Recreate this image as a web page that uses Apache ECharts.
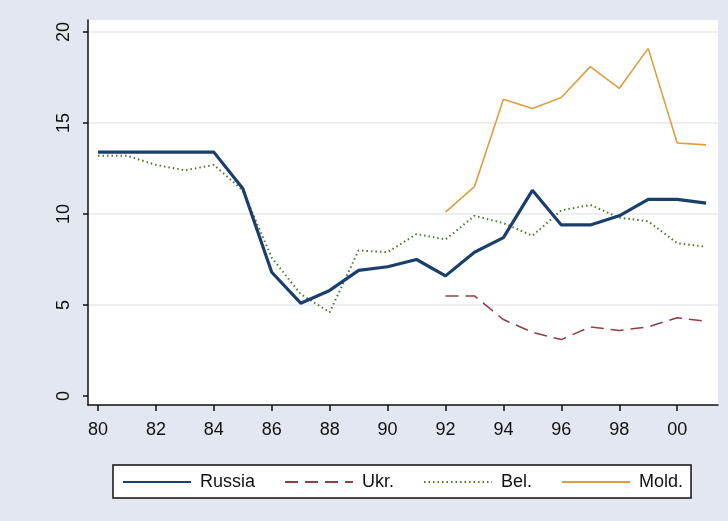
<!DOCTYPE html>
<html>
<head>
<meta charset="utf-8">
<script src="https://cdn.jsdelivr.net/npm/echarts@6/dist/echarts.min.js"></script>
<style>
  html, body { margin: 0; padding: 0; background: #e2e7f0; }
  #chart { width: 728px; height: 521px; }
</style>
</head>
<body>
<div id="chart"></div>
<script>
// Years covered by each series
const yearsAll = [1980,1981,1982,1983,1984,1985,1986,1987,1988,1989,1990,
                  1991,1992,1993,1994,1995,1996,1997,1998,1999,2000,2001];
const yearsLate = [1992,1993,1994,1995,1996,1997,1998,1999,2000,2001];

const russia = [13.4,13.4,13.4,13.4,13.4,11.4,6.8,5.1,5.8,6.9,7.1,
                7.5,6.6,7.9,8.7,11.3,9.4,9.4,9.9,10.8,10.8,10.6];
const belarus = [13.2,13.2,12.7,12.4,12.7,11.3,7.6,5.6,4.6,8.0,7.9,
                 8.9,8.6,9.9,9.5,8.8,10.2,10.5,9.8,9.6,8.4,8.2];
const ukraine = [5.5,5.5,4.2,3.5,3.1,3.8,3.6,3.8,4.3,4.1];
const moldova = [10.1,11.5,16.3,15.8,16.4,18.1,16.9,19.1,13.9,13.8];

const xTicks = [1980,1982,1984,1986,1988,1990,1992,1994,1996,1998,2000];
const yTicks = [0,5,10,15,20];

const pairs = (xs, ys) => xs.map((x, i) => [x, ys[i]]);

const chart = echarts.init(document.getElementById('chart'), null, { renderer: 'canvas' });

chart.setOption({
  backgroundColor: '#e2e7f0',
  animation: false,
  grid: {
    left: 88, right: 10, top: 20, bottom: 116,
    show: true, backgroundColor: '#ffffff', borderWidth: 0
  },
  xAxis: {
    type: 'value',
    min: 1979.655, max: 2001.41,
    axisLine: { show: true, onZero: false, lineStyle: { color: '#111', width: 1.5 } },
    axisTick: { show: true, customValues: xTicks, length: 6, lineStyle: { color: '#111', width: 1.5 } },
    axisLabel: {
      customValues: xTicks, margin: 16,
      color: '#111', fontFamily: 'Liberation Sans', fontSize: 18,
      formatter: v => String(Math.round(v) % 100).padStart(2, '0')
    },
    splitLine: { show: false }
  },
  yAxis: {
    type: 'value',
    min: -0.495, max: 20.66,
    axisLine: { show: true, onZero: false, lineStyle: { color: '#111', width: 1.5 } },
    axisTick: { show: true, customValues: yTicks, length: 5, lineStyle: { color: '#111', width: 1.5 } },
    axisLabel: {
      customValues: yTicks, rotate: 90, margin: 15,
      color: '#111', fontFamily: 'Liberation Sans', fontSize: 18
    },
    splitLine: { show: true, lineStyle: { color: ['rgba(0,0,0,0)', '#e6e8ef', '#e6e8ef', '#e6e8ef', '#e6e8ef'], width: 1.5 } }
  },
  legend: {
    left: 113, top: 465,
    orient: 'horizontal',
    backgroundColor: '#ffffff',
    borderColor: '#111', borderWidth: 1.5, borderRadius: 0,
    padding: [8, 8, 7, 9],
    itemWidth: 68, itemHeight: 14, itemGap: 29,
    itemStyle: { opacity: 0 },
    textStyle: { color: '#111', fontFamily: 'Liberation Sans', fontSize: 18, padding: [0, 0, 0, 4] },
    data: ['Russia', 'Ukr.', 'Bel.', 'Mold.']
  },
  series: [
    {
      name: 'Russia', type: 'line', symbol: 'none',
      data: pairs(yearsAll, russia),
      lineStyle: { color: '#1b3f6c', width: 3.2 },
      itemStyle: { color: '#1b3f6c' }, z: 4
    },
    {
      name: 'Ukr.', type: 'line', symbol: 'none',
      data: pairs(yearsLate, ukraine),
      lineStyle: { color: '#8e3f45', width: 1.5, type: [13, 7] },
      itemStyle: { color: '#8e3f45' }, z: 3
    },
    {
      name: 'Bel.', type: 'line', symbol: 'none',
      data: pairs(yearsAll, belarus),
      lineStyle: { color: '#4f7a2a', width: 2, type: [1.5, 3] },
      itemStyle: { color: '#4f7a2a' }, z: 3
    },
    {
      name: 'Mold.', type: 'line', symbol: 'none',
      data: pairs(yearsLate, moldova),
      lineStyle: { color: '#dc9f3c', width: 1.6 },
      itemStyle: { color: '#dc9f3c' }, z: 3
    }
  ]
});
</script>
</body>
</html>
